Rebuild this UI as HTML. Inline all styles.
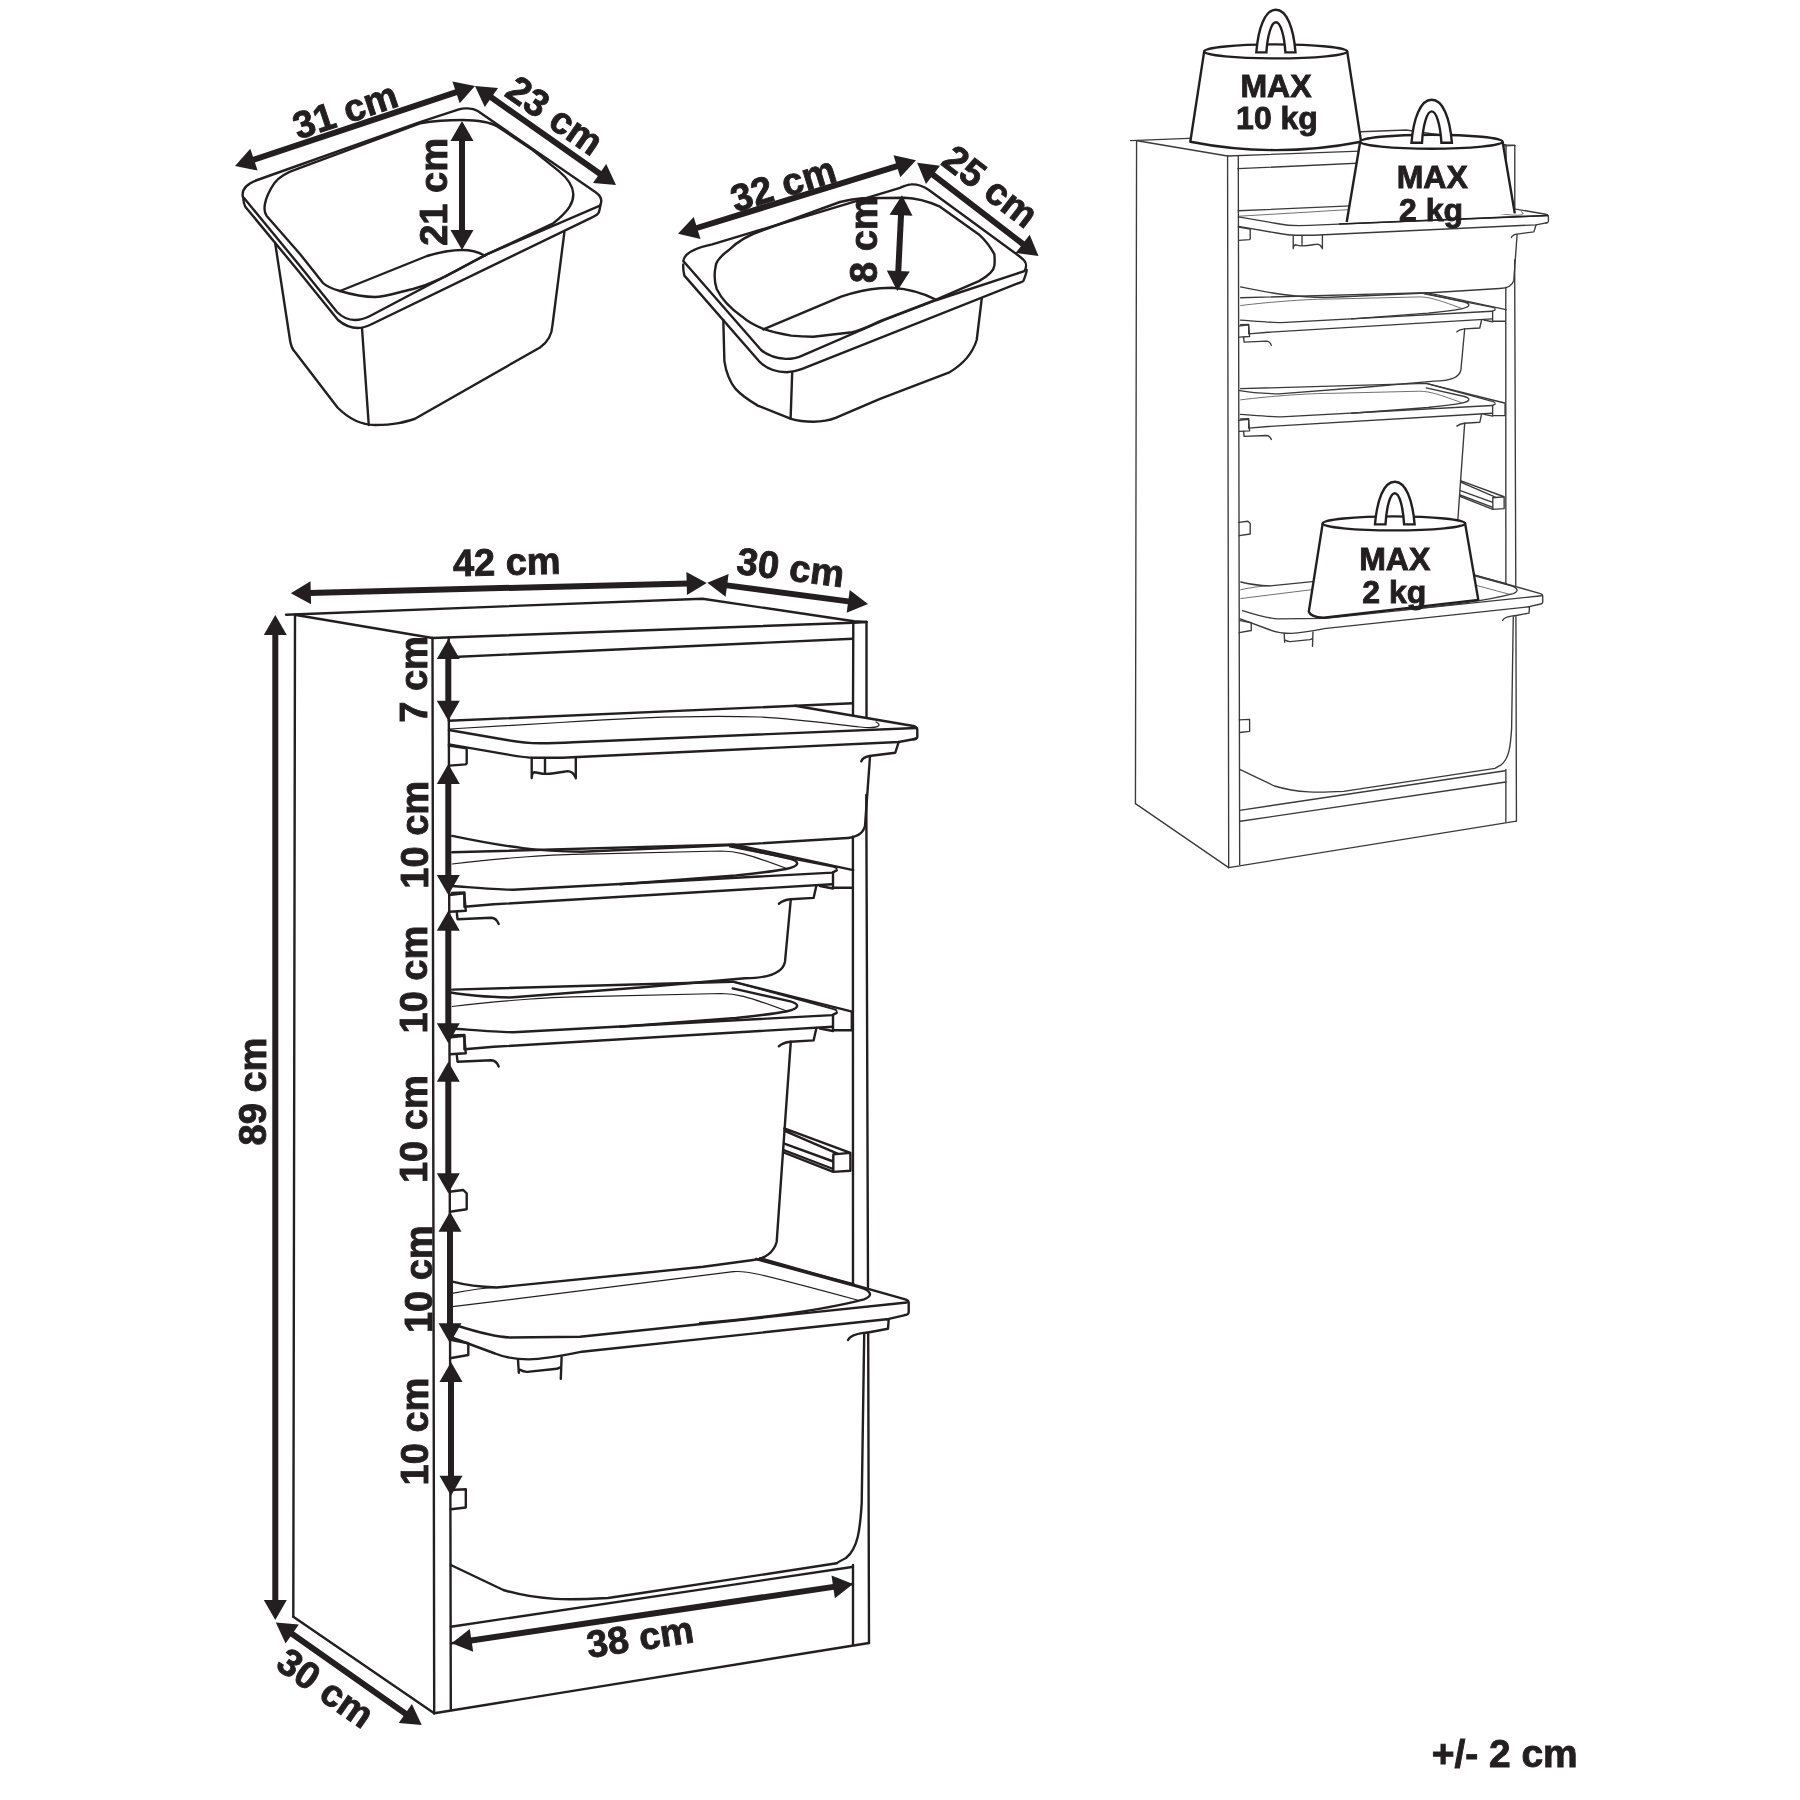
<!DOCTYPE html>
<html><head><meta charset="utf-8"><style>
html,body{margin:0;padding:0;background:#fff;}
svg{display:block;will-change:transform;}
text{font-family:"Liberation Sans",sans-serif;}
</style></head><body>
<svg width="1800" height="1800" viewBox="0 0 1800 1800">
<rect width="1800" height="1800" fill="#fff"/>
<path d="M286,614.7 L702.5,598.7 L854,621.3 L866.5,622" fill="none" stroke="#231f20" stroke-width="2.4" stroke-linejoin="round" stroke-linecap="round" />
<path d="M296,615 L432.5,638" fill="none" stroke="#231f20" stroke-width="2.4" stroke-linejoin="round" stroke-linecap="round" />
<path d="M295,615 L293.3,1616.7" fill="none" stroke="#231f20" stroke-width="2.4" stroke-linejoin="round" stroke-linecap="round" />
<path d="M293.3,1616.7 L434.2,1713.3" fill="none" stroke="#231f20" stroke-width="2.4" stroke-linejoin="round" stroke-linecap="round" />
<path d="M432.5,638 L434.2,1713.3" fill="none" stroke="#231f20" stroke-width="2.4" stroke-linejoin="round" stroke-linecap="round" />
<path d="M448.7,638 L450.8,1709" fill="none" stroke="#231f20" stroke-width="2.4" stroke-linejoin="round" stroke-linecap="round" />
<path d="M432.5,638 L853.3,622.7 L866.5,622" fill="none" stroke="#231f20" stroke-width="2.4" stroke-linejoin="round" stroke-linecap="round" />
<path d="M448,657.2 L852.7,638.7" fill="none" stroke="#231f20" stroke-width="2.4" stroke-linejoin="round" stroke-linecap="round" />
<path d="M853.3,622.7 L853,714.9 M852.9,836.7 L853,1284 M853,1565 L853,1644" fill="none" stroke="#231f20" stroke-width="2.4" stroke-linejoin="round" stroke-linecap="round" />
<path d="M866.5,622 L866.5,716.7 M866.3,795 L868,1287 M868.2,1334 L869,1643" fill="none" stroke="#231f20" stroke-width="2.4" stroke-linejoin="round" stroke-linecap="round" />
<path d="M434.2,1713.3 L869,1643" fill="none" stroke="#231f20" stroke-width="2.4" stroke-linejoin="round" stroke-linecap="round" />
<path d="M450.8,1626.7 L852,1567" fill="none" stroke="#231f20" stroke-width="2.4" stroke-linejoin="round" stroke-linecap="round" />
<path d="M448.7,720.8 L852.7,703.3" fill="none" stroke="#231f20" stroke-width="2.4" stroke-linejoin="round" stroke-linecap="round" />
<path d="M795,705.8 L913.3,726 Q917.3,727 917.3,730 L917.3,737 Q917,739 913.3,739.3" fill="none" stroke="#231f20" stroke-width="2.4" stroke-linejoin="round" stroke-linecap="round" />
<path d="M448.9,730 L506.7,740 C520,742.5 530,743.3 540,743.3 C555,743.3 565,742.7 573.3,742.2 L916,728" fill="none" stroke="#231f20" stroke-width="2.4" stroke-linejoin="round" stroke-linecap="round" />
<path d="M449.5,729 L560,722.5 C640,717 700,715 760,717 C800,719 840,725 860,727 C880,729 882,725 876,722" fill="none" stroke="#231f20" stroke-width="1.2" stroke-linejoin="round" stroke-linecap="round" />
<path d="M448.9,744.4 L506.7,754.4 C520,756.7 527,757.8 534.4,757.8 L562.2,757.8 L898.7,742 L916,738.7" fill="none" stroke="#231f20" stroke-width="2.4" stroke-linejoin="round" stroke-linecap="round" />
<path d="M448.9,745.6 L466.7,748.3 L466.7,763.3 L465.6,764.4 L449.4,765.6" fill="none" stroke="#231f20" stroke-width="2.4" stroke-linejoin="round" stroke-linecap="round" />
<path d="M531.7,758 L531.7,778 M545,758 L545,772.5 M575.8,757.5 L575.8,778.3 M531.7,777.8 C532,774 533,772.5 534.4,772.2 C538,772.5 541,773.9 545.6,773.9 C555,773.5 562,772 567.8,771.1 C571,771.5 574,773.5 575,776.7" fill="none" stroke="#231f20" stroke-width="2.4" stroke-linejoin="round" stroke-linecap="round" />
<path d="M898.7,742 L895.3,752.7 L869.3,756 C864,757 862,759 861.3,761.3" fill="none" stroke="#231f20" stroke-width="2.4" stroke-linejoin="round" stroke-linecap="round" />
<path d="M870,756.7 L865,826 C863,834 855,838 843.4,838.3 L733,845 L581.8,851.8 C540,851 510,848 452.2,835.9" fill="none" stroke="#231f20" stroke-width="2.4" stroke-linejoin="round" stroke-linecap="round" />
<path d="M452.2,852.3 L733.4,844.4 L853.2,870.1" fill="none" stroke="#231f20" stroke-width="2.4" stroke-linejoin="round" stroke-linecap="round" />
<path d="M729.8,846.6 L833.8,866.8 C836,867.5 836.7,868 836.7,869" fill="none" stroke="#231f20" stroke-width="1.8" stroke-linejoin="round" stroke-linecap="round" />
<path d="M732.7,845.9 L790.4,858.9 C800,861.5 800,866 786.1,869 C770,872 750,874 735.6,875.5 L620,884.2" fill="none" stroke="#231f20" stroke-width="2.4" stroke-linejoin="round" stroke-linecap="round" />
<path d="M452.2,864 C500,858 560,854 586.7,854.2 L721.1,851 C735,851 745,853 786.1,868.3" fill="none" stroke="#231f20" stroke-width="1.2" stroke-linejoin="round" stroke-linecap="round" />
<path d="M452,886 C480,888 500,889.7 513.3,889.7 L832.3,872.6 L836.7,870.4" fill="none" stroke="#231f20" stroke-width="2.4" stroke-linejoin="round" stroke-linecap="round" />
<path d="M452,893 L464.4,892.5 L464.4,906.8 L493.8,904.3 L832.3,884.2" fill="none" stroke="#231f20" stroke-width="2.4" stroke-linejoin="round" stroke-linecap="round" />
<path d="M449.2,895 L464.2,893.3 L465.8,910.8 L450,911.7" fill="none" stroke="#231f20" stroke-width="2.4" stroke-linejoin="round" stroke-linecap="round" />
<path d="M833,872.6 L833,887.8 L851.8,887.8 M820,886 L833,888.5" fill="none" stroke="#231f20" stroke-width="2.4" stroke-linejoin="round" stroke-linecap="round" />
<path d="M816.4,885.5 L813.6,897.9 L790.4,899.3 C784,900 781,902 778.9,903.7" fill="none" stroke="#231f20" stroke-width="2.4" stroke-linejoin="round" stroke-linecap="round" />
<path d="M456.7,911.7 L457.5,919.2 L491.3,917.8 C495,918 497,920 498.7,923.9" fill="none" stroke="#231f20" stroke-width="2.4" stroke-linejoin="round" stroke-linecap="round" />
<path d="M790.8,899.5 L785,961.7 C783,972 770,978 745,978.3 L640,987.5 L510,997.5 C490,997 470,996 450.8,992.5" fill="none" stroke="#231f20" stroke-width="2.4" stroke-linejoin="round" stroke-linecap="round" />
<path d="M452.2,989.6 L732.7,981.7 L851.1,1011.3" fill="none" stroke="#231f20" stroke-width="2.4" stroke-linejoin="round" stroke-linecap="round" />
<path d="M732.7,981.7 L833.8,1009.1 C836,1009.8 836.7,1010.3 836.7,1011.3" fill="none" stroke="#231f20" stroke-width="1.8" stroke-linejoin="round" stroke-linecap="round" />
<path d=" M732.7,988.4 L790.4,1001.4 C800.0,1004.0 800.0,1008.5 786.1,1011.5 C770.0,1014.5 750.0,1016.5 735.6,1018.0 L620.0,1026.7 " fill="none" stroke="#231f20" stroke-width="2.4" stroke-linejoin="round" stroke-linecap="round" />
<path d=" M452.2,1006.5 C500.0,1000.5 560.0,996.5 586.7,996.7 L721.1,993.5 C735.0,993.5 745.0,995.5 786.1,1010.8 " fill="none" stroke="#231f20" stroke-width="1.2" stroke-linejoin="round" stroke-linecap="round" />
<path d=" M452.0,1028.5 C480.0,1030.5 500.0,1032.2 513.3,1032.2 L832.3,1015.1 L836.7,1012.9 " fill="none" stroke="#231f20" stroke-width="2.4" stroke-linejoin="round" stroke-linecap="round" />
<path d=" M452.0,1035.5 L464.4,1035.0 L464.4,1049.3 L493.8,1046.8 L832.3,1026.7 " fill="none" stroke="#231f20" stroke-width="2.4" stroke-linejoin="round" stroke-linecap="round" />
<path d=" M449.2,1037.5 L464.2,1035.8 L465.8,1053.3 L450.0,1054.2 " fill="none" stroke="#231f20" stroke-width="2.4" stroke-linejoin="round" stroke-linecap="round" />
<path d=" M833.0,1015.1 L833.0,1030.3 L851.8,1030.3 L851.8,1012.5 M820.0,1028.5 L833.0,1031.0 " fill="none" stroke="#231f20" stroke-width="2.4" stroke-linejoin="round" stroke-linecap="round" />
<path d=" M816.4,1028.0 L813.6,1040.4 L790.4,1041.8 C784.0,1042.5 781.0,1044.5 778.9,1046.2 " fill="none" stroke="#231f20" stroke-width="2.4" stroke-linejoin="round" stroke-linecap="round" />
<path d=" M456.7,1054.2 L457.5,1061.7 L491.3,1060.3 C495.0,1060.5 497.0,1062.5 498.7,1066.4 " fill="none" stroke="#231f20" stroke-width="2.4" stroke-linejoin="round" stroke-linecap="round" />
<path d="M790.8,1041.7 L785,1123.3 L776.7,1241.7 C774,1252 765,1259 753.3,1260 L703.3,1266.7 L640,1273.3 L496.7,1287.5 C480,1287 465,1285 452.5,1281.7" fill="none" stroke="#231f20" stroke-width="2.4" stroke-linejoin="round" stroke-linecap="round" />
<path d="M784.3,1128.4 L850.4,1152.9 L850.4,1170.8 L833.3,1171.9 L783.6,1152.5 M784.7,1130.9 L838,1153.9 M833.3,1154.4 L850.4,1152.9 M833.3,1154.4 L833.3,1171.9 M784.3,1143.6 L833.3,1161.5 M783.6,1150 L833.3,1169" fill="none" stroke="#231f20" stroke-width="2.4" stroke-linejoin="round" stroke-linecap="round" />
<path d="M449.2,1191.7 L463.3,1190 L466.7,1193.3 L466.7,1209.2 L450,1211.7" fill="none" stroke="#231f20" stroke-width="2.4" stroke-linejoin="round" stroke-linecap="round" />
<path d="M450,1490 L465.8,1489.2 L465.8,1507.5 L450.8,1509.2" fill="none" stroke="#231f20" stroke-width="2.4" stroke-linejoin="round" stroke-linecap="round" />
<path d="M452.5,1293.3 C470,1290 480,1288 496.7,1287.5 M452.5,1306.7 L733.3,1271.7" fill="none" stroke="#231f20" stroke-width="1.2" stroke-linejoin="round" stroke-linecap="round" />
<path d="M758.3,1259.2 L853.3,1284.2" fill="none" stroke="#231f20" stroke-width="2.4" stroke-linejoin="round" stroke-linecap="round" />
<path d="M760,1258.3 L905.3,1299.3 C908,1300 908.7,1301 908.7,1302.7 L908.7,1312 C908.7,1314 907,1315 904,1315.3 L886.7,1319.3" fill="none" stroke="#231f20" stroke-width="2.4" stroke-linejoin="round" stroke-linecap="round" />
<path d="M733.3,1271.7 C745,1270.5 750,1271 857.3,1300" fill="none" stroke="#231f20" stroke-width="1.2" stroke-linejoin="round" stroke-linecap="round" />
<path d="M756,1259 L860,1287.3 C872,1291 873,1296 864,1299.3 C820,1311 760,1318 700,1323.3" fill="none" stroke="#231f20" stroke-width="2.4" stroke-linejoin="round" stroke-linecap="round" />
<path d="M455,1325 C480,1333 495,1337 510,1337.5 L580,1336.7 L906.7,1302.5" fill="none" stroke="#231f20" stroke-width="2.4" stroke-linejoin="round" stroke-linecap="round" />
<path d="M451.7,1337.5 L495,1353.5 C505,1357.5 515,1359.4 528.9,1359.4 C545,1359 560,1356 581.8,1351.7 L886.7,1319.3 L888.7,1319.3 L888,1328.7 L866.7,1332.7" fill="none" stroke="#231f20" stroke-width="2.4" stroke-linejoin="round" stroke-linecap="round" />
<path d="M451.7,1340 L468.3,1343.3 L468.3,1355 L450,1358.3" fill="none" stroke="#231f20" stroke-width="2.4" stroke-linejoin="round" stroke-linecap="round" />
<path d="M518,1359.4 L518.8,1372.7 M519.6,1369.6 C522,1371 524,1372 527.3,1371.9 L556.9,1368.8 L560.8,1367.2 M561.6,1357.1 L560.8,1378.9" fill="none" stroke="#231f20" stroke-width="2.4" stroke-linejoin="round" stroke-linecap="round" />
<path d="M848,1340 C850,1336 855,1334 863.3,1332.9 L866.7,1332.7" fill="none" stroke="#231f20" stroke-width="2.4" stroke-linejoin="round" stroke-linecap="round" />
<path d="M864.2,1334.2 L861.7,1503.3 C860,1530 858,1548 846,1558 C840,1561 838,1562 836.7,1563.3 L640,1593.3 L608,1598 C570,1600 540,1601 503.3,1590 L450.8,1565" fill="none" stroke="#231f20" stroke-width="2.4" stroke-linejoin="round" stroke-linecap="round" />
<path d="M451.7,1643.3 L853,1584" fill="none" stroke="#231f20" stroke-width="2.4" stroke-linejoin="round" stroke-linecap="round" />
<line x1="275.3" y1="633.0" x2="275.3" y2="1602.0" stroke="#231f20" stroke-width="6.0"/>
<path d="M275.3,1620.0 L263.8,1600.0 L286.8,1600.0 Z" fill="#231f20" stroke="none"/>
<path d="M275.3,615.0 L263.8,635.0 L286.8,635.0 Z" fill="#231f20" stroke="none"/>
<line x1="308.8" y1="592.9" x2="688.7" y2="583.4" stroke="#231f20" stroke-width="6.0"/>
<path d="M706.7,583.0 L687.0,595.0 L686.4,572.0 Z" fill="#231f20" stroke="none"/>
<path d="M290.8,593.3 L311.1,604.3 L310.5,581.3 Z" fill="#231f20" stroke="none"/>
<line x1="725.1" y1="585.1" x2="850.2" y2="601.6" stroke="#231f20" stroke-width="6.0"/>
<path d="M868.0,604.0 L846.7,612.8 L849.7,590.0 Z" fill="#231f20" stroke="none"/>
<path d="M707.3,582.7 L725.6,596.7 L728.6,573.9 Z" fill="#231f20" stroke="none"/>
<line x1="290.5" y1="1632.8" x2="407.0" y2="1714.7" stroke="#231f20" stroke-width="6.0"/>
<path d="M421.7,1725.0 L398.7,1722.9 L411.9,1704.1 Z" fill="#231f20" stroke="none"/>
<path d="M275.8,1622.5 L285.6,1643.4 L298.8,1624.6 Z" fill="#231f20" stroke="none"/>
<line x1="469.5" y1="1640.7" x2="835.2" y2="1586.6" stroke="#231f20" stroke-width="6.0"/>
<path d="M853.0,1584.0 L834.9,1598.3 L831.5,1575.5 Z" fill="#231f20" stroke="none"/>
<path d="M451.7,1643.3 L473.2,1651.8 L469.8,1629.0 Z" fill="#231f20" stroke="none"/>
<line x1="448.3" y1="657.0" x2="448.3" y2="702.8" stroke="#231f20" stroke-width="6.0"/>
<path d="M448.3,720.8 L436.8,700.8 L459.8,700.8 Z" fill="#231f20" stroke="none"/>
<path d="M448.3,639.0 L436.8,659.0 L459.8,659.0 Z" fill="#231f20" stroke="none"/>
<line x1="448.3" y1="782.0" x2="448.3" y2="877.0" stroke="#231f20" stroke-width="6.0"/>
<path d="M448.3,895.0 L436.8,875.0 L459.8,875.0 Z" fill="#231f20" stroke="none"/>
<path d="M448.3,764.0 L436.8,784.0 L459.8,784.0 Z" fill="#231f20" stroke="none"/>
<line x1="448.3" y1="928.8" x2="448.3" y2="1025.3" stroke="#231f20" stroke-width="6.0"/>
<path d="M448.3,1043.3 L436.8,1023.3 L459.8,1023.3 Z" fill="#231f20" stroke="none"/>
<path d="M448.3,910.8 L436.8,930.8 L459.8,930.8 Z" fill="#231f20" stroke="none"/>
<line x1="448.3" y1="1079.7" x2="448.3" y2="1175.3" stroke="#231f20" stroke-width="6.0"/>
<path d="M448.3,1193.3 L436.8,1173.3 L459.8,1173.3 Z" fill="#231f20" stroke="none"/>
<path d="M448.3,1061.7 L436.8,1081.7 L459.8,1081.7 Z" fill="#231f20" stroke="none"/>
<line x1="450.0" y1="1229.7" x2="450.0" y2="1325.3" stroke="#231f20" stroke-width="6.0"/>
<path d="M450.0,1343.3 L438.5,1323.3 L461.5,1323.3 Z" fill="#231f20" stroke="none"/>
<path d="M450.0,1211.7 L438.5,1231.7 L461.5,1231.7 Z" fill="#231f20" stroke="none"/>
<line x1="451.0" y1="1380.0" x2="451.0" y2="1477.8" stroke="#231f20" stroke-width="6.0"/>
<path d="M451.0,1495.8 L439.5,1475.8 L462.5,1475.8 Z" fill="#231f20" stroke="none"/>
<path d="M451.0,1362.0 L439.5,1382.0 L462.5,1382.0 Z" fill="#231f20" stroke="none"/>
<text x="507" y="575" font-size="38" font-weight="bold" text-anchor="middle" fill="#231f20" stroke="#231f20" stroke-width="0.9" transform="rotate(-1.4 507 575)">42 cm</text>
<text x="789" y="580.5" font-size="38" font-weight="bold" text-anchor="middle" fill="#231f20" stroke="#231f20" stroke-width="0.9" transform="rotate(7.4 789 580.5)">30 cm</text>
<text x="642" y="1650" font-size="38" font-weight="bold" text-anchor="middle" fill="#231f20" stroke="#231f20" stroke-width="0.9" transform="rotate(-8.5 642 1650)">38 cm</text>
<text x="318" y="1698.6" font-size="38" font-weight="bold" text-anchor="middle" fill="#231f20" stroke="#231f20" stroke-width="0.9" transform="rotate(35.1 318 1698.6)">30 cm</text>
<text x="266" y="1091.5" font-size="38" font-weight="bold" text-anchor="middle" fill="#231f20" stroke="#231f20" stroke-width="0.9" transform="rotate(-90 266 1091.5)">89 cm</text>
<text x="427" y="679.5" font-size="38" font-weight="bold" text-anchor="middle" fill="#231f20" stroke="#231f20" stroke-width="0.9" transform="rotate(-90 427 679.5)">7 cm</text>
<text x="427.5" y="834.75" font-size="38" font-weight="bold" text-anchor="middle" fill="#231f20" stroke="#231f20" stroke-width="0.9" transform="rotate(-90 427.5 834.75)">10 cm</text>
<text x="427.5" y="979.6" font-size="38" font-weight="bold" text-anchor="middle" fill="#231f20" stroke="#231f20" stroke-width="0.9" transform="rotate(-90 427.5 979.6)">10 cm</text>
<text x="427.5" y="1129.2" font-size="38" font-weight="bold" text-anchor="middle" fill="#231f20" stroke="#231f20" stroke-width="0.9" transform="rotate(-90 427.5 1129.2)">10 cm</text>
<text x="431.7" y="1279.2" font-size="38" font-weight="bold" text-anchor="middle" fill="#231f20" stroke="#231f20" stroke-width="0.9" transform="rotate(-90 431.7 1279.2)">10 cm</text>
<text x="427.5" y="1431.5" font-size="38" font-weight="bold" text-anchor="middle" fill="#231f20" stroke="#231f20" stroke-width="0.9" transform="rotate(-90 427.5 1431.5)">10 cm</text>
<text x="1504.7" y="1766.7" font-size="38" font-weight="bold" text-anchor="middle" fill="#231f20" stroke="#231f20" stroke-width="0.9" transform="rotate(0 1504.7 1766.7)" textLength="146" lengthAdjust="spacingAndGlyphs">+/- 2 cm</text>
<path d="M242.7,196 C242,190 246,184 257.3,180 L420,122.2 L458.9,109.4 C463,108 472,107.5 477.8,111.1 L595.6,192.2 C601,196 603,200 600,205.6 L486.7,254.4 L370,316 C364,319 360,320 355,320 C348,320 342,317 337,312 L300,266 L244,198 C243,197.5 242.7,197 242.7,196 Z" fill="none" stroke="#231f20" stroke-width="2.4" stroke-linejoin="round" stroke-linecap="round" />
<path d="M243.3,198.7 C243.5,202 244,204 245.3,206.7 L300,273 L338,320 C345,326 352,328 358,328 C363,328 368,326 372,324 L591.1,217.8 C597,215 599,214 599.5,210 L600.5,205" fill="none" stroke="#231f20" stroke-width="2.4" stroke-linejoin="round" stroke-linecap="round" />
<path d="M300,254 L266.7,216 C263,211 263,200 274.7,182.7 C280,176 288,172 296,169.3 L420,123.3 C440,120 450,120 462.2,120 C478,120 490,122 497.8,126.7 L531.1,148.9 L558.9,171.1 C566,177 573,184 573.3,194 C573.5,202 570,210 553.3,223.3 L486.7,254.4 C460,268 440,282 413,289 C395,293 385,297 375,297 C360,297 350,294 340,291 C333,289 327,287 323,283 L300,254" fill="none" stroke="#231f20" stroke-width="2.4" stroke-linejoin="round" stroke-linecap="round" />
<path d="M340,291 L427,256 C440,252 452,250 462,250 C470,250 478,251.5 484.4,255.6" fill="none" stroke="#231f20" stroke-width="2.4" stroke-linejoin="round" stroke-linecap="round" />
<path d="M275.3,244 L290,340 C291,347 293,350 295,352 L337.5,407.5 C350,420 362,425 375,425 C395,425 405,422 415,418.75 L540,347.5 C548,342 552,334 552.5,325 L564.4,232.2" fill="none" stroke="#231f20" stroke-width="2.4" stroke-linejoin="round" stroke-linecap="round" />
<path d="M362,328 L368.75,425" fill="none" stroke="#231f20" stroke-width="2.4" stroke-linejoin="round" stroke-linecap="round" />
<line x1="252.1" y1="160.3" x2="457.9" y2="91.7" stroke="#231f20" stroke-width="6.0"/>
<path d="M475.0,86.0 L459.7,103.2 L452.4,81.4 Z" fill="#231f20" stroke="none"/>
<path d="M235.0,166.0 L257.6,170.6 L250.3,148.8 Z" fill="#231f20" stroke="none"/>
<line x1="489.7" y1="96.3" x2="601.3" y2="174.7" stroke="#231f20" stroke-width="6.0"/>
<path d="M616.0,185.0 L593.0,182.9 L606.2,164.1 Z" fill="#231f20" stroke="none"/>
<path d="M475.0,86.0 L484.8,106.9 L498.0,88.1 Z" fill="#231f20" stroke="none"/>
<line x1="462.0" y1="139.0" x2="462.0" y2="232.0" stroke="#231f20" stroke-width="6.0"/>
<path d="M462.0,250.0 L450.5,230.0 L473.5,230.0 Z" fill="#231f20" stroke="none"/>
<path d="M462.0,121.0 L450.5,141.0 L473.5,141.0 Z" fill="#231f20" stroke="none"/>
<text x="349.3" y="122.8" font-size="38" font-weight="bold" text-anchor="middle" fill="#231f20" stroke="#231f20" stroke-width="0.9" transform="rotate(-18.4 349.3 122.8)">31 cm</text>
<text x="547.3" y="126.1" font-size="38" font-weight="bold" text-anchor="middle" fill="#231f20" stroke="#231f20" stroke-width="0.9" transform="rotate(35 547.3 126.1)">23 cm</text>
<text x="447.5" y="191.9" font-size="38" font-weight="bold" text-anchor="middle" fill="#231f20" stroke="#231f20" stroke-width="0.9" transform="rotate(-90 447.5 191.9)">21 cm</text>
<path d="M683.3,261.1 C684,254 695,248 712.2,244.4 L900,187.8 C905,186 908,184.4 911.1,184.4 C917,184 923,186 928.9,190 L1020,256.7 C1026,261 1028,265 1024.4,271.1 L936.7,300 L884.4,320 L802.2,355.6 C797,358 791,359 785.6,358.9 C775,358 767,355 761.1,350 L684.4,262.2 C683.5,262 683.3,261.5 683.3,261.1 Z" fill="none" stroke="#231f20" stroke-width="2.4" stroke-linejoin="round" stroke-linecap="round" />
<path d="M683.3,264.4 C683,268 683.5,272 684.4,275.6 L760,362.2 C767,369 777,372 786.7,372.2 C792,372 797,371 802.2,368.9 L1017.8,283.3 C1021,282 1023,281.5 1023.3,281.1 C1025,277 1026.5,273 1026.7,270" fill="none" stroke="#231f20" stroke-width="2.4" stroke-linejoin="round" stroke-linecap="round" />
<path d="M728.9,250 C722,255 716,260 715.6,266.7 C714,274 714.5,282 716.7,288.9 C722,300 730,308 742.2,316.7 C748,322 756,326 763.3,328.9 C772,332 782,334 791.1,335.6 C800,336.5 806,336.7 813.3,336.7 L852.2,332.2 C862,330 872,325 880,321.1 L936.7,299.4 L978.9,281.1 C988,276 994,270 994.4,265.6 C995,260 994.5,257 994.4,254.4 C990,246 985,240 978.9,234.4 L940,206.7 C925,200 915,198 904.4,197.8 L862.2,198.3 C855,199 848,200 840,202 L763.3,230 C745,236 735,244 728.9,250" fill="none" stroke="#231f20" stroke-width="2.4" stroke-linejoin="round" stroke-linecap="round" />
<path d="M763.3,329.4 L841.1,296.7 C855,292 870,289 880,288.3 L892.2,287.8 C910,289 925,294 936.7,300" fill="none" stroke="#231f20" stroke-width="2.4" stroke-linejoin="round" stroke-linecap="round" />
<path d="M723.3,320 L724.4,361.1 C726,372 730,382 735.6,388.9 C742,396 750,401 757.8,405.6 L791.1,418.9 C798,421 806,421.7 813.3,421.7 C822,421.5 830,420 835.6,417.8 L880,398.9 L948.7,372.7 C962,365 972,355 976.7,340 L981.7,298.9" fill="none" stroke="#231f20" stroke-width="2.4" stroke-linejoin="round" stroke-linecap="round" />
<path d="M792.2,372.2 L790.6,418.9" fill="none" stroke="#231f20" stroke-width="2.4" stroke-linejoin="round" stroke-linecap="round" />
<line x1="695.2" y1="228.5" x2="898.8" y2="165.6" stroke="#231f20" stroke-width="6.0"/>
<path d="M916.0,160.3 L900.3,177.2 L893.5,155.2 Z" fill="#231f20" stroke="none"/>
<path d="M678.0,233.8 L700.5,238.9 L693.7,216.9 Z" fill="#231f20" stroke="none"/>
<line x1="931.5" y1="173.7" x2="1024.2" y2="245.0" stroke="#231f20" stroke-width="6.0"/>
<path d="M1038.5,256.0 L1015.6,252.9 L1029.7,234.7 Z" fill="#231f20" stroke="none"/>
<path d="M917.2,162.7 L926.0,184.0 L940.1,165.8 Z" fill="#231f20" stroke="none"/>
<line x1="901.1" y1="213.3" x2="898.2" y2="273.0" stroke="#231f20" stroke-width="6.0"/>
<path d="M897.3,291.0 L886.8,270.5 L909.8,271.6 Z" fill="#231f20" stroke="none"/>
<path d="M902.0,195.3 L889.5,214.7 L912.5,215.8 Z" fill="#231f20" stroke="none"/>
<text x="787" y="196.6" font-size="38" font-weight="bold" text-anchor="middle" fill="#231f20" stroke="#231f20" stroke-width="0.9" transform="rotate(-17.2 787 196.6)">32 cm</text>
<text x="982.5" y="196.7" font-size="38" font-weight="bold" text-anchor="middle" fill="#231f20" stroke="#231f20" stroke-width="0.9" transform="rotate(37.6 982.5 196.7)">25 cm</text>
<text x="877.5" y="239.7" font-size="38" font-weight="bold" text-anchor="middle" fill="#231f20" stroke="#231f20" stroke-width="0.9" transform="rotate(-90 877.5 239.7)">8 cm</text>
<g transform="matrix(0.6618,0,0,0.6618,941.34,-266.25)">
<path d="M286,614.7 L702.5,598.7 L854,621.3 L866.5,622" fill="none" stroke="#3a3a3a" stroke-width="2.05" stroke-linejoin="round" stroke-linecap="round" />
<path d="M296,615 L432.5,638" fill="none" stroke="#3a3a3a" stroke-width="2.05" stroke-linejoin="round" stroke-linecap="round" />
<path d="M295,615 L293.3,1616.7" fill="none" stroke="#3a3a3a" stroke-width="2.05" stroke-linejoin="round" stroke-linecap="round" />
<path d="M293.3,1616.7 L434.2,1713.3" fill="none" stroke="#3a3a3a" stroke-width="2.05" stroke-linejoin="round" stroke-linecap="round" />
<path d="M432.5,638 L434.2,1713.3" fill="none" stroke="#3a3a3a" stroke-width="2.05" stroke-linejoin="round" stroke-linecap="round" />
<path d="M448.7,638 L450.8,1709" fill="none" stroke="#3a3a3a" stroke-width="2.05" stroke-linejoin="round" stroke-linecap="round" />
<path d="M432.5,638 L853.3,622.7 L866.5,622" fill="none" stroke="#3a3a3a" stroke-width="2.05" stroke-linejoin="round" stroke-linecap="round" />
<path d="M448,657.2 L852.7,638.7" fill="none" stroke="#3a3a3a" stroke-width="2.05" stroke-linejoin="round" stroke-linecap="round" />
<path d="M853.3,622.7 L853,714.9 M852.9,836.7 L853,1284 M853,1565 L853,1644" fill="none" stroke="#3a3a3a" stroke-width="2.05" stroke-linejoin="round" stroke-linecap="round" />
<path d="M866.5,622 L866.5,716.7 M866.3,795 L868,1287 M868.2,1334 L869,1643" fill="none" stroke="#3a3a3a" stroke-width="2.05" stroke-linejoin="round" stroke-linecap="round" />
<path d="M434.2,1713.3 L869,1643" fill="none" stroke="#3a3a3a" stroke-width="2.05" stroke-linejoin="round" stroke-linecap="round" />
<path d="M450.8,1626.7 L852,1567" fill="none" stroke="#3a3a3a" stroke-width="2.05" stroke-linejoin="round" stroke-linecap="round" />
<path d="M448.7,720.8 L852.7,703.3" fill="none" stroke="#3a3a3a" stroke-width="2.05" stroke-linejoin="round" stroke-linecap="round" />
<path d="M795,705.8 L913.3,726 Q917.3,727 917.3,730 L917.3,737 Q917,739 913.3,739.3" fill="none" stroke="#3a3a3a" stroke-width="2.05" stroke-linejoin="round" stroke-linecap="round" />
<path d="M448.9,730 L506.7,740 C520,742.5 530,743.3 540,743.3 C555,743.3 565,742.7 573.3,742.2 L916,728" fill="none" stroke="#3a3a3a" stroke-width="2.05" stroke-linejoin="round" stroke-linecap="round" />
<path d="M449.5,729 L560,722.5 C640,717 700,715 760,717 C800,719 840,725 860,727 C880,729 882,725 876,722" fill="none" stroke="#3a3a3a" stroke-width="1.1" stroke-linejoin="round" stroke-linecap="round" />
<path d="M448.9,744.4 L506.7,754.4 C520,756.7 527,757.8 534.4,757.8 L562.2,757.8 L898.7,742 L916,738.7" fill="none" stroke="#3a3a3a" stroke-width="2.05" stroke-linejoin="round" stroke-linecap="round" />
<path d="M448.9,745.6 L466.7,748.3 L466.7,763.3 L465.6,764.4 L449.4,765.6" fill="none" stroke="#3a3a3a" stroke-width="2.05" stroke-linejoin="round" stroke-linecap="round" />
<path d="M531.7,758 L531.7,778 M545,758 L545,772.5 M575.8,757.5 L575.8,778.3 M531.7,777.8 C532,774 533,772.5 534.4,772.2 C538,772.5 541,773.9 545.6,773.9 C555,773.5 562,772 567.8,771.1 C571,771.5 574,773.5 575,776.7" fill="none" stroke="#3a3a3a" stroke-width="2.05" stroke-linejoin="round" stroke-linecap="round" />
<path d="M898.7,742 L895.3,752.7 L869.3,756 C864,757 862,759 861.3,761.3" fill="none" stroke="#3a3a3a" stroke-width="2.05" stroke-linejoin="round" stroke-linecap="round" />
<path d="M870,756.7 L865,826 C863,834 855,838 843.4,838.3 L733,845 L581.8,851.8 C540,851 510,848 452.2,835.9" fill="none" stroke="#3a3a3a" stroke-width="2.05" stroke-linejoin="round" stroke-linecap="round" />
<path d="M452.2,852.3 L733.4,844.4 L853.2,870.1" fill="none" stroke="#3a3a3a" stroke-width="2.05" stroke-linejoin="round" stroke-linecap="round" />
<path d="M729.8,846.6 L833.8,866.8 C836,867.5 836.7,868 836.7,869" fill="none" stroke="#3a3a3a" stroke-width="1.8" stroke-linejoin="round" stroke-linecap="round" />
<path d="M732.7,845.9 L790.4,858.9 C800,861.5 800,866 786.1,869 C770,872 750,874 735.6,875.5 L620,884.2" fill="none" stroke="#3a3a3a" stroke-width="2.05" stroke-linejoin="round" stroke-linecap="round" />
<path d="M452.2,864 C500,858 560,854 586.7,854.2 L721.1,851 C735,851 745,853 786.1,868.3" fill="none" stroke="#3a3a3a" stroke-width="1.1" stroke-linejoin="round" stroke-linecap="round" />
<path d="M452,886 C480,888 500,889.7 513.3,889.7 L832.3,872.6 L836.7,870.4" fill="none" stroke="#3a3a3a" stroke-width="2.05" stroke-linejoin="round" stroke-linecap="round" />
<path d="M452,893 L464.4,892.5 L464.4,906.8 L493.8,904.3 L832.3,884.2" fill="none" stroke="#3a3a3a" stroke-width="2.05" stroke-linejoin="round" stroke-linecap="round" />
<path d="M449.2,895 L464.2,893.3 L465.8,910.8 L450,911.7" fill="none" stroke="#3a3a3a" stroke-width="2.05" stroke-linejoin="round" stroke-linecap="round" />
<path d="M833,872.6 L833,887.8 L851.8,887.8 M820,886 L833,888.5" fill="none" stroke="#3a3a3a" stroke-width="2.05" stroke-linejoin="round" stroke-linecap="round" />
<path d="M816.4,885.5 L813.6,897.9 L790.4,899.3 C784,900 781,902 778.9,903.7" fill="none" stroke="#3a3a3a" stroke-width="2.05" stroke-linejoin="round" stroke-linecap="round" />
<path d="M456.7,911.7 L457.5,919.2 L491.3,917.8 C495,918 497,920 498.7,923.9" fill="none" stroke="#3a3a3a" stroke-width="2.05" stroke-linejoin="round" stroke-linecap="round" />
<path d="M790.8,899.5 L785,961.7 C783,972 770,978 745,978.3 L640,987.5 L510,997.5 C490,997 470,996 450.8,992.5" fill="none" stroke="#3a3a3a" stroke-width="2.05" stroke-linejoin="round" stroke-linecap="round" />
<path d="M452.2,989.6 L732.7,981.7 L851.1,1011.3" fill="none" stroke="#3a3a3a" stroke-width="2.05" stroke-linejoin="round" stroke-linecap="round" />
<path d="M732.7,981.7 L833.8,1009.1 C836,1009.8 836.7,1010.3 836.7,1011.3" fill="none" stroke="#3a3a3a" stroke-width="1.8" stroke-linejoin="round" stroke-linecap="round" />
<path d=" M732.7,988.4 L790.4,1001.4 C800.0,1004.0 800.0,1008.5 786.1,1011.5 C770.0,1014.5 750.0,1016.5 735.6,1018.0 L620.0,1026.7 " fill="none" stroke="#3a3a3a" stroke-width="2.05" stroke-linejoin="round" stroke-linecap="round" />
<path d=" M452.2,1006.5 C500.0,1000.5 560.0,996.5 586.7,996.7 L721.1,993.5 C735.0,993.5 745.0,995.5 786.1,1010.8 " fill="none" stroke="#3a3a3a" stroke-width="1.1" stroke-linejoin="round" stroke-linecap="round" />
<path d=" M452.0,1028.5 C480.0,1030.5 500.0,1032.2 513.3,1032.2 L832.3,1015.1 L836.7,1012.9 " fill="none" stroke="#3a3a3a" stroke-width="2.05" stroke-linejoin="round" stroke-linecap="round" />
<path d=" M452.0,1035.5 L464.4,1035.0 L464.4,1049.3 L493.8,1046.8 L832.3,1026.7 " fill="none" stroke="#3a3a3a" stroke-width="2.05" stroke-linejoin="round" stroke-linecap="round" />
<path d=" M449.2,1037.5 L464.2,1035.8 L465.8,1053.3 L450.0,1054.2 " fill="none" stroke="#3a3a3a" stroke-width="2.05" stroke-linejoin="round" stroke-linecap="round" />
<path d=" M833.0,1015.1 L833.0,1030.3 L851.8,1030.3 L851.8,1012.5 M820.0,1028.5 L833.0,1031.0 " fill="none" stroke="#3a3a3a" stroke-width="2.05" stroke-linejoin="round" stroke-linecap="round" />
<path d=" M816.4,1028.0 L813.6,1040.4 L790.4,1041.8 C784.0,1042.5 781.0,1044.5 778.9,1046.2 " fill="none" stroke="#3a3a3a" stroke-width="2.05" stroke-linejoin="round" stroke-linecap="round" />
<path d=" M456.7,1054.2 L457.5,1061.7 L491.3,1060.3 C495.0,1060.5 497.0,1062.5 498.7,1066.4 " fill="none" stroke="#3a3a3a" stroke-width="2.05" stroke-linejoin="round" stroke-linecap="round" />
<path d="M790.8,1041.7 L785,1123.3 L776.7,1241.7 C774,1252 765,1259 753.3,1260 L703.3,1266.7 L640,1273.3 L496.7,1287.5 C480,1287 465,1285 452.5,1281.7" fill="none" stroke="#3a3a3a" stroke-width="2.05" stroke-linejoin="round" stroke-linecap="round" />
<path d="M784.3,1128.4 L850.4,1152.9 L850.4,1170.8 L833.3,1171.9 L783.6,1152.5 M784.7,1130.9 L838,1153.9 M833.3,1154.4 L850.4,1152.9 M833.3,1154.4 L833.3,1171.9 M784.3,1143.6 L833.3,1161.5 M783.6,1150 L833.3,1169" fill="none" stroke="#3a3a3a" stroke-width="2.05" stroke-linejoin="round" stroke-linecap="round" />
<path d="M449.2,1191.7 L463.3,1190 L466.7,1193.3 L466.7,1209.2 L450,1211.7" fill="none" stroke="#3a3a3a" stroke-width="2.05" stroke-linejoin="round" stroke-linecap="round" />
<path d="M450,1490 L465.8,1489.2 L465.8,1507.5 L450.8,1509.2" fill="none" stroke="#3a3a3a" stroke-width="2.05" stroke-linejoin="round" stroke-linecap="round" />
<path d="M452.5,1293.3 C470,1290 480,1288 496.7,1287.5 M452.5,1306.7 L733.3,1271.7" fill="none" stroke="#3a3a3a" stroke-width="1.1" stroke-linejoin="round" stroke-linecap="round" />
<path d="M758.3,1259.2 L853.3,1284.2" fill="none" stroke="#3a3a3a" stroke-width="2.05" stroke-linejoin="round" stroke-linecap="round" />
<path d="M760,1258.3 L905.3,1299.3 C908,1300 908.7,1301 908.7,1302.7 L908.7,1312 C908.7,1314 907,1315 904,1315.3 L886.7,1319.3" fill="none" stroke="#3a3a3a" stroke-width="2.05" stroke-linejoin="round" stroke-linecap="round" />
<path d="M733.3,1271.7 C745,1270.5 750,1271 857.3,1300" fill="none" stroke="#3a3a3a" stroke-width="1.1" stroke-linejoin="round" stroke-linecap="round" />
<path d="M756,1259 L860,1287.3 C872,1291 873,1296 864,1299.3 C820,1311 760,1318 700,1323.3" fill="none" stroke="#3a3a3a" stroke-width="2.05" stroke-linejoin="round" stroke-linecap="round" />
<path d="M455,1325 C480,1333 495,1337 510,1337.5 L580,1336.7 L906.7,1302.5" fill="none" stroke="#3a3a3a" stroke-width="2.05" stroke-linejoin="round" stroke-linecap="round" />
<path d="M451.7,1337.5 L495,1353.5 C505,1357.5 515,1359.4 528.9,1359.4 C545,1359 560,1356 581.8,1351.7 L886.7,1319.3 L888.7,1319.3 L888,1328.7 L866.7,1332.7" fill="none" stroke="#3a3a3a" stroke-width="2.05" stroke-linejoin="round" stroke-linecap="round" />
<path d="M451.7,1340 L468.3,1343.3 L468.3,1355 L450,1358.3" fill="none" stroke="#3a3a3a" stroke-width="2.05" stroke-linejoin="round" stroke-linecap="round" />
<path d="M518,1359.4 L518.8,1372.7 M519.6,1369.6 C522,1371 524,1372 527.3,1371.9 L556.9,1368.8 L560.8,1367.2 M561.6,1357.1 L560.8,1378.9" fill="none" stroke="#3a3a3a" stroke-width="2.05" stroke-linejoin="round" stroke-linecap="round" />
<path d="M848,1340 C850,1336 855,1334 863.3,1332.9 L866.7,1332.7" fill="none" stroke="#3a3a3a" stroke-width="2.05" stroke-linejoin="round" stroke-linecap="round" />
<path d="M864.2,1334.2 L861.7,1503.3 C860,1530 858,1548 846,1558 C840,1561 838,1562 836.7,1563.3 L640,1593.3 L608,1598 C570,1600 540,1601 503.3,1590 L450.8,1565" fill="none" stroke="#3a3a3a" stroke-width="2.05" stroke-linejoin="round" stroke-linecap="round" />
<path d="M451.7,1643.3 L853,1584" fill="none" stroke="#3a3a3a" stroke-width="2.05" stroke-linejoin="round" stroke-linecap="round" />
</g>
<path d="M1204.2,51.4 L1190.3,141.7 Q1275.6,158.5 1361.1,141.7 L1347.2,51.4 Z" fill="#fff" stroke="#231f20" stroke-width="2.4" stroke-linejoin="round"/>
<ellipse cx="1275.7" cy="51.4" rx="71.5" ry="7" fill="#fff" stroke="#231f20" stroke-width="2.4"/>
<path d="M1256.3,52.4 C1258.3,27.7 1265.1,9.7 1275.9,9.7 C1286.7,9.7 1293.5,27.7 1295.5,52.4 L1285.4,52.4 C1284.4,36.2 1280.7,22.2 1275.9,22.2 C1271.2,22.2 1267.4,36.2 1266.4,52.4 Z" fill="#fff" stroke="#231f20" stroke-width="2.4" stroke-linejoin="miter"/>
<text x="1276" y="97.2" font-size="32" font-weight="bold" text-anchor="middle" fill="#231f20" stroke="#231f20" stroke-width="0.9" transform="rotate(0 1276 97.2)">MAX</text>
<text x="1277" y="129.2" font-size="32" font-weight="bold" text-anchor="middle" fill="#231f20" stroke="#231f20" stroke-width="0.9" transform="rotate(0 1277 129.2)">10 kg</text>
<path d="M1360.2,141.7 L1346.7,222.0 L1514.8,213.4 L1502.6,141.7 Z" fill="#fff" stroke="none"/>
<path d="M1360.2,141.7 L1346.7,222.0 M1514.8,213.4 L1502.6,141.7" fill="none" stroke="#231f20" stroke-width="2.4"/>
<ellipse cx="1431.4" cy="141.7" rx="71.2" ry="7" fill="#fff" stroke="#231f20" stroke-width="2.4"/>
<path d="M1411.5,142.7 C1413.5,117.8 1420.6,99.8 1431.7,99.8 C1442.8,99.8 1449.9,117.8 1451.9,142.7 L1441.4,142.7 C1440.4,125.4 1436.5,111.4 1431.7,111.4 C1426.9,111.4 1423.0,125.4 1422.0,142.7 Z" fill="#fff" stroke="#231f20" stroke-width="2.4" stroke-linejoin="miter"/>
<text x="1432.2" y="187.8" font-size="32" font-weight="bold" text-anchor="middle" fill="#231f20" stroke="#231f20" stroke-width="0.9" transform="rotate(0 1432.2 187.8)">MAX</text>
<text x="1431" y="221.4" font-size="32" font-weight="bold" text-anchor="middle" fill="#231f20" stroke="#231f20" stroke-width="0.9" transform="rotate(0 1431 221.4)">2 kg</text>
<path d="M1339.5,224.0 L1547.5,215.5" fill="none" stroke="#231f20" stroke-width="1.6" stroke-linejoin="round" stroke-linecap="round" />
<path d="M1322.7,523.4 L1308.8,611.6 C1309.5,614 1312,617 1323.6,617.8 L1478.3,599.9 L1465.1,523.4 Z" fill="#fff" stroke="#231f20" stroke-width="2.4" stroke-linejoin="round"/>
<ellipse cx="1393.9" cy="523.4" rx="71.2" ry="7" fill="#fff" stroke="#231f20" stroke-width="2.4"/>
<path d="M1375.0,524.4 C1377.0,499.7 1383.9,481.7 1394.8,481.7 C1405.7,481.7 1412.6,499.7 1414.6,524.4 L1404.1,524.4 C1403.1,507.3 1399.5,493.3 1394.8,493.3 C1390.1,493.3 1386.5,507.3 1385.5,524.4 Z" fill="#fff" stroke="#231f20" stroke-width="2.4" stroke-linejoin="miter"/>
<text x="1394.7" y="569.6" font-size="32" font-weight="bold" text-anchor="middle" fill="#231f20" stroke="#231f20" stroke-width="0.9" transform="rotate(0 1394.7 569.6)">MAX</text>
<text x="1394.3" y="603" font-size="32" font-weight="bold" text-anchor="middle" fill="#231f20" stroke="#231f20" stroke-width="0.9" transform="rotate(0 1394.3 603)">2 kg</text>
</svg></body></html>
